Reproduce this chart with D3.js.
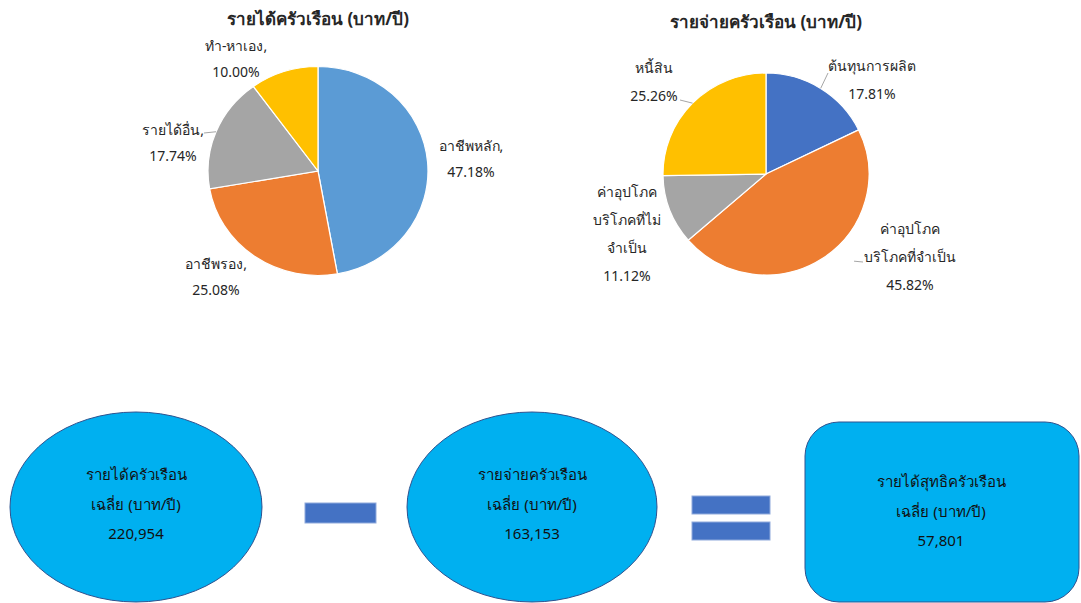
<!DOCTYPE html>
<html lang="th">
<head>
    <meta charset="UTF-8">
    <title>รายได้ รายจ่ายครัวเรือน</title>
    <script src="https://d3js.org/d3.v7.min.js"></script>
    <style>
        body { margin: 0; background: #fff; }
        svg text { font-family: "Noto Sans", "DejaVu Sans", sans-serif; }
    </style>
</head>
<body>
    <div class="canvas"></div>
    <script>
        // ข้อมูลกราฟวงกลม
        let incomeTitle = "รายได้ครัวเรือน (บาท/ปี)";
        let incomeCats = [["อาชีพหลัก,"], ["อาชีพรอง,"], ["รายได้อื่น,"], ["ทำ-หาเอง,"]];
        let incomeVals = [47.18, 25.08, 17.74, 10.00];

        let expenseTitle = "รายจ่ายครัวเรือน (บาท/ปี)";
        let expenseCats = [["ต้นทุนการผลิต"], ["ค่าอุปโภค", "บริโภคที่จำเป็น"], ["ค่าอุปโภค", "บริโภคที่ไม่", "จำเป็น"], ["หนี้สิน"]];
        let expenseVals = [17.81, 45.82, 11.12, 25.26];

        // ข้อมูลสรุปด้านล่าง
        let summaryLabels = [["รายได้ครัวเรือน", "เฉลี่ย (บาท/ปี)"], ["รายจ่ายครัวเรือน", "เฉลี่ย (บาท/ปี)"], ["รายได้สุทธิครัวเรือน", "เฉลี่ย (บาท/ปี)"]];
        let summaryVals = [220954, 163153, 57801];

        let W = 1081, H = 603;
        let svg = d3.select(".canvas").append("svg")
            .attr("width", W).attr("height", H);

        let pct = d3.format(".2f");
        let num = d3.format(",");

        // วาดกราฟวงกลม
        function drawPie(cfg) {
            let g = svg.append("g").attr("transform", "translate(" + cfg.cx + "," + cfg.cy + ")");
            g.append("text")
                .attr("x", 0).attr("y", cfg.titleY)
                .attr("text-anchor", "middle")
                .attr("font-size", "17px").attr("font-weight", "bold")
                .attr("fill", "#262626")
                .text(cfg.title);

            let arcs = d3.pie().sort(null)(cfg.vals);
            let arc = d3.arc().innerRadius(0).outerRadius(cfg.ry);
            let sx = cfg.rx / cfg.ry;

            g.append("g").attr("transform", "scale(" + sx + ",1)")
                .selectAll("path").data(arcs).enter().append("path")
                .attr("d", arc)
                .attr("fill", (d, i) => cfg.colors[i])
                .attr("stroke", "#fff").attr("stroke-width", 1.2);

            // เส้นโยงป้าย
            arcs.forEach((d, i) => {
                let lead = cfg.leaders[i];
                if (!lead) return;
                let a = (d.startAngle + d.endAngle) / 2;
                let ex = Math.sin(a) * cfg.rx, ey = -Math.cos(a) * cfg.ry;
                let vx = ex - lead[0], vy = ey - lead[1];
                let len = Math.sqrt(vx * vx + vy * vy);
                let t = Math.min(1, lead[2] / len);
                g.append("line")
                    .attr("x1", lead[0]).attr("y1", lead[1])
                    .attr("x2", lead[0] + vx * t).attr("y2", lead[1] + vy * t)
                    .attr("stroke", "#a6a6a6").attr("stroke-width", 1);
            });

            // ป้ายข้อมูล
            arcs.forEach((d, i) => {
                let lines = cfg.cats[i].concat([pct(cfg.vals[i]) + "%"]);
                let p = cfg.labels[i];
                let t = g.append("text")
                    .attr("text-anchor", "middle")
                    .attr("font-size", "14px")
                    .attr("fill", "#262626");
                lines.forEach((s, k) => {
                    t.append("tspan").attr("x", p[0]).attr("y", p[1] + k * cfg.lh).text(s);
                });
            });
        }

        drawPie({
            cx: 318, cy: 171, rx: 110, ry: 104.5, titleY: -146,
            title: incomeTitle, cats: incomeCats, vals: incomeVals,
            colors: ["#5b9bd5", "#ed7d31", "#a5a5a5", "#ffc000"],
            labels: [[153, -20], [-102, 98], [-145, -36], [-82, -120]], lh: 26,
            leaders: [null, null, [-114, -38, 14], null]
        });

        drawPie({
            cx: 766, cy: 174, rx: 103, ry: 101, titleY: -146,
            title: expenseTitle, cats: expenseCats, vals: expenseVals,
            colors: ["#4472c4", "#ed7d31", "#a5a5a5", "#ffc000"],
            labels: [[106, -103], [144, 60], [-139, 23], [-112, -101]], lh: 28,
            leaders: [[62, -101, 17], [97, 88, 9], null, [-86, -74, 14]]
        });

        // รูปทรงสรุปด้านล่าง
        let shapeFill = "#00b0f0", shapeStroke = "#2f528f";
        let shapes = [
            { type: "ellipse", cx: 136, cy: 507, rx: 126, ry: 95, ty: 480 },
            { type: "ellipse", cx: 532, cy: 507, rx: 125, ry: 95, ty: 480 },
            { type: "rect", x: 805, y: 422, w: 274, h: 180, r: 34, cx: 941, ty: 487 }
        ];
        let bottom = svg.append("g");
        shapes.forEach((s, i) => {
            if (s.type === "ellipse") {
                bottom.append("ellipse")
                    .attr("cx", s.cx).attr("cy", s.cy).attr("rx", s.rx).attr("ry", s.ry)
                    .attr("fill", shapeFill).attr("stroke", shapeStroke).attr("stroke-width", 1);
            } else {
                bottom.append("rect")
                    .attr("x", s.x).attr("y", s.y).attr("width", s.w).attr("height", s.h)
                    .attr("rx", s.r).attr("ry", s.r)
                    .attr("fill", shapeFill).attr("stroke", shapeStroke).attr("stroke-width", 1);
            }
            let t = bottom.append("text")
                .attr("text-anchor", "middle").attr("font-size", "15px").attr("fill", "#111");
            summaryLabels[i].concat([num(summaryVals[i])]).forEach((line, k) => {
                t.append("tspan").attr("x", s.cx).attr("y", s.ty + k * 29.5).text(line);
            });
        });

        // เครื่องหมายลบและเท่ากับ
        let opFill = "#4472c4", opStroke = "#8faadc";
        bottom.append("rect").attr("x", 305).attr("y", 503).attr("width", 71).attr("height", 20)
            .attr("fill", opFill).attr("stroke", opStroke);
        [496, 522].forEach(y => {
            bottom.append("rect").attr("x", 692).attr("y", y).attr("width", 78).attr("height", 18)
                .attr("fill", opFill).attr("stroke", opStroke);
        });
    </script>
</body>
</html>
